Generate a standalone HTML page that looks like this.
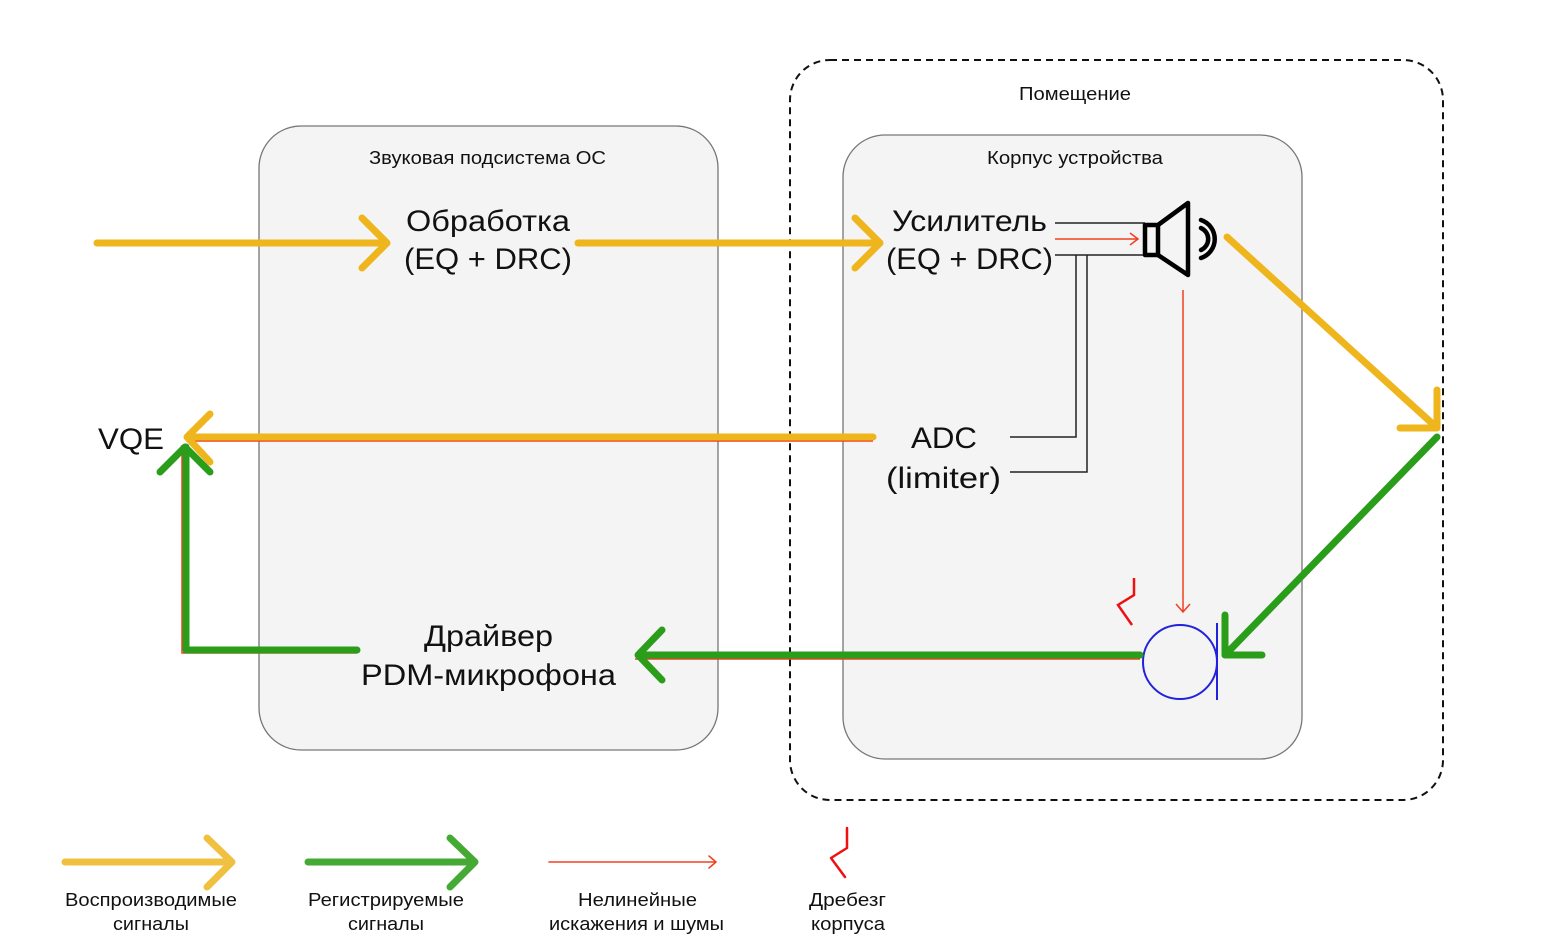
<!DOCTYPE html>
<html><head><meta charset="utf-8"><style>
html,body{margin:0;padding:0;background:#fff;}
svg{display:block;}
text{font-family:"Liberation Sans","DejaVu Sans",sans-serif;fill:#111;}
</style></head><body>
<svg width="1560" height="947" viewBox="0 0 1560 947" xmlns="http://www.w3.org/2000/svg">
<rect x="790" y="60" width="653" height="740" rx="40" fill="none" stroke="#111" stroke-width="2" stroke-dasharray="7,5"/>
<rect x="259" y="126" width="459" height="624" rx="42" fill="#f4f4f4" stroke="#777" stroke-width="1.3"/>
<rect x="843" y="135" width="459" height="624" rx="42" fill="#f4f4f4" stroke="#777" stroke-width="1.3"/>
<g font-size="18" lengthAdjust="spacingAndGlyphs">
<text x="1019" y="100" textLength="112" lengthAdjust="spacingAndGlyphs">Помещение</text>
<text x="369" y="164" textLength="237" lengthAdjust="spacingAndGlyphs">Звуковая подсистема ОС</text>
<text x="987" y="164" textLength="176" lengthAdjust="spacingAndGlyphs">Корпус устройства</text>
</g>

<g font-size="30">
<text x="406" y="231" textLength="164" lengthAdjust="spacingAndGlyphs">Обработка</text>
<text x="404" y="269" textLength="168" lengthAdjust="spacingAndGlyphs">(EQ + DRC)</text>
<text x="892" y="231" textLength="155" lengthAdjust="spacingAndGlyphs">Усилитель</text>
<text x="886" y="269" textLength="167" lengthAdjust="spacingAndGlyphs">(EQ + DRC)</text>
<text x="911" y="448" textLength="66" lengthAdjust="spacingAndGlyphs">ADC</text>
<text x="886" y="488" textLength="115" lengthAdjust="spacingAndGlyphs">(limiter)</text>
<text x="424" y="646" textLength="129" lengthAdjust="spacingAndGlyphs">Драйвер</text>
<text x="361" y="685" textLength="255" lengthAdjust="spacingAndGlyphs">PDM-микрофона</text>
<text x="98" y="449" textLength="66" lengthAdjust="spacingAndGlyphs">VQE</text>
</g>

<g fill="none" stroke="#222" stroke-width="1.5">
<path d="M1055 223H1145M1055 255H1145M1076 255V437H1010M1087 255V472H1010"/>
</g>
<g fill="none" stroke="#f04020" stroke-width="1.5">
<path d="M1055 239H1138M1130 233L1138 239L1130 245"/>
<path d="M1183 290V612M1176 604L1183 612L1190 604"/>
<path d="M635 659H1140"/>
<path d="M187 441H873"/>
<path d="M182 445V653H357"/>
</g>
<g fill="none" stroke="#000" stroke-width="4.5" stroke-linejoin="round" stroke-linecap="round">
<rect x="1145" y="225" width="13" height="30"/>
<path d="M1158 225L1188 203V275L1158 255"/>
<path d="M1201 228A12 12 0 0 1 1201 250"/>
<path d="M1201 220A20 20 0 0 1 1201 258"/>
</g>
<circle cx="1180" cy="662" r="37" fill="none" stroke="#2222dd" stroke-width="2"/>
<path d="M1217 623V700" stroke="#2222dd" stroke-width="2"/>
<path d="M1134 578V595L1118 605L1132 625" fill="none" stroke="#ee1111" stroke-width="2.5"/>

<g fill="none" stroke="#efb51c" stroke-width="7" stroke-linecap="round" stroke-linejoin="round">
<path d="M97 243H385M362 218L387 243L362 268"/>
<path d="M578 243H878M855 218L880 243L855 268"/>
<path d="M1227 237L1435 426M1400 428H1437V390"/>
<path d="M873 437H187M210 414L187 437L210 462"/>
</g>
<g fill="none" stroke="#2a9d1a" stroke-width="7" stroke-linecap="round" stroke-linejoin="round">
<path d="M1437 437L1227 653M1225 615V655H1262"/>
<path d="M1140 655H640M662 630L638 655L662 680"/>
<path d="M357 650H186V447M160 472L185 447L210 472"/>
</g>

<g fill="none" stroke-linecap="round" stroke-linejoin="round">
<path d="M65 862H230M207 838L232 862L207 887" stroke="#f0c040" stroke-width="7"/>
<path d="M308 862H473M450 838L475 862L450 887" stroke="#44aa33" stroke-width="7"/>
<path d="M549 862H716M709 856L716 862L709 868" stroke="#f04020" stroke-width="1.5"/>
<path d="M847 828V848L831 858L845 877" stroke="#ee1111" stroke-width="2.5"/>
</g>
<g font-size="18">
<text x="65" y="906" textLength="172" lengthAdjust="spacingAndGlyphs">Воспроизводимые</text>
<text x="113" y="930" textLength="76" lengthAdjust="spacingAndGlyphs">сигналы</text>
<text x="308" y="906" textLength="156" lengthAdjust="spacingAndGlyphs">Регистрируемые</text>
<text x="348" y="930" textLength="76" lengthAdjust="spacingAndGlyphs">сигналы</text>
<text x="578" y="906" textLength="119" lengthAdjust="spacingAndGlyphs">Нелинейные</text>
<text x="549" y="930" textLength="175" lengthAdjust="spacingAndGlyphs">искажения и шумы</text>
<text x="809" y="906" textLength="77" lengthAdjust="spacingAndGlyphs">Дребезг</text>
<text x="811" y="930" textLength="74" lengthAdjust="spacingAndGlyphs">корпуса</text>
</g>
</svg>
</body></html>
